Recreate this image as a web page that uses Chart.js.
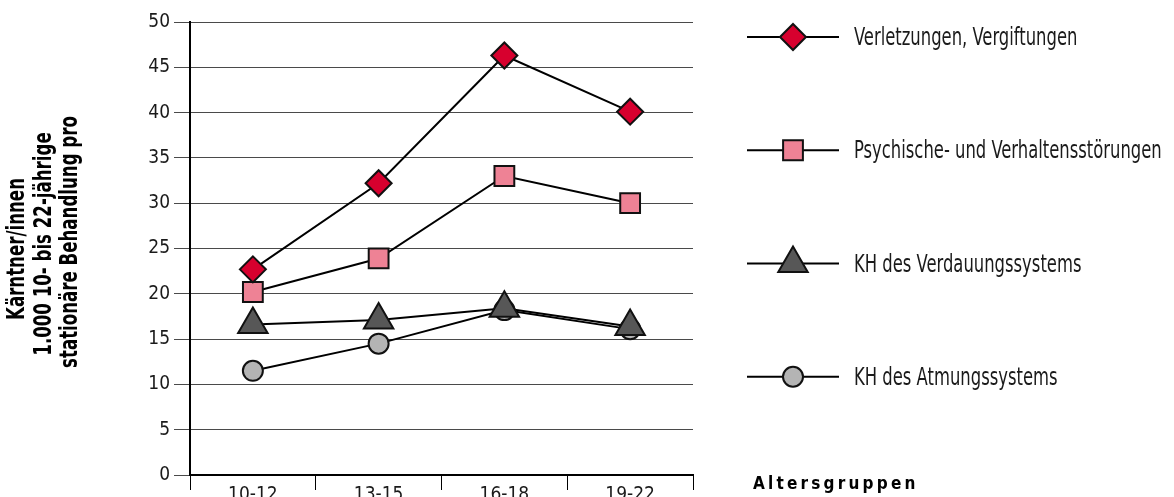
<!DOCTYPE html>
<html>
<head>
<meta charset="utf-8">
<script src="https://cdn.jsdelivr.net/npm/chart.js@4/dist/chart.umd.min.js"></script>
<style>
  html, body { margin: 0; padding: 0; background: #fff; }
  #wrap { width: 1174px; height: 497px; position: relative; }
</style>
</head>
<body>
<div id="wrap"><canvas id="chart"></canvas></div>
<script>
// Altersgruppen
const ageGroups = ["10-12", "13-15", "16-18", "19-22"];

// stationäre Behandlungen pro 1.000 10- bis 22-jährige Kärntner/innen
const injuries = [22.7, 32.2, 46.3, 40.1];
const mental = [20.2, 23.9, 33.0, 30.0];
const digestive = [16.6, 17.1, 18.4, 16.4];
const respiratory = [11.5, 14.5, 18.2, 16.1];

const seriesNames = [
  "Verletzungen, Vergiftungen",
  "Psychische- und Verhaltensstörungen",
  "KH des Verdauungssystems",
  "KH des Atmungssystems"
];

const yTicks = [0, 5, 10, 15, 20, 25, 30, 35, 40, 45, 50];

// the three lines of the rotated y title, left to right
const yTitle = ["Kärntner/innen", "1.000 10- bis 22-jährige", "stationäre Behandlung pro"];

const FONT = "'DejaVu Sans Condensed', 'Liberation Sans Narrow', sans-serif";
const TEXT = "#1a1a1a";

function makeSet(label, data, style, color, radius) {
  return {
    label: label,
    data: data,
    borderColor: "#000",
    borderWidth: 2,
    pointStyle: style,
    pointRadius: radius,
    pointHoverRadius: radius,
    pointBackgroundColor: color,
    pointBorderColor: "#111",
    pointBorderWidth: 2,
    tension: 0,
    fill: false
  };
}

// text squeezed sideways, the original uses a tall condensed face
function narrowText(ctx, str, x, y, sx) {
  ctx.save();
  ctx.translate(x, y);
  ctx.scale(sx, 1);
  ctx.fillText(str, 0, 0);
  ctx.restore();
}

// legend on the right, y title and "Altersgruppen" caption
const sideText = {
  id: "sideText",
  afterDraw(chart) {
    const ctx = chart.ctx;
    const area = chart.chartArea;
    const step = (area.bottom - area.top) / 4;
    ctx.save();
    chart.data.datasets.forEach((ds, i) => {
      const y = area.top + 15 + i * step;
      const x0 = area.right + 54;
      ctx.strokeStyle = "#000";
      ctx.lineWidth = 2;
      ctx.beginPath();
      ctx.moveTo(x0, y);
      ctx.lineTo(x0 + 92, y);
      ctx.stroke();
      ctx.fillStyle = ds.pointBackgroundColor;
      ctx.strokeStyle = ds.pointBorderColor;
      ctx.lineWidth = ds.pointBorderWidth;
      Chart.helpers.drawPoint(ctx, {
        pointStyle: ds.pointStyle,
        radius: ds.pointRadius,
        rotation: 0,
        borderWidth: ds.pointBorderWidth
      }, x0 + 46, y);
      ctx.fillStyle = TEXT;
      ctx.font = "24px " + FONT;
      ctx.textAlign = "left";
      ctx.textBaseline = "alphabetic";
      narrowText(ctx, ds.label, x0 + 107, y + 8, 0.76);
    });

    // rotated y axis title
    const centres = [[18, 249], [44.5, 244], [71, 242]];
    ctx.fillStyle = "#000";
    ctx.font = "bold 24px " + FONT;
    ctx.textAlign = "center";
    ctx.textBaseline = "middle";
    yTitle.forEach((line, i) => {
      ctx.save();
      ctx.translate(centres[i][0], centres[i][1]);
      ctx.rotate(-Math.PI / 2);
      ctx.scale(0.77, 1);
      ctx.fillText(line, 0, 0);
      ctx.restore();
    });

    ctx.font = "bold 17px " + FONT;
    ctx.letterSpacing = "3.2px";
    ctx.textAlign = "left";
    ctx.textBaseline = "alphabetic";
    ctx.fillText("Altersgruppen", area.right + 60, 489);
    ctx.restore();
  }
};

new Chart(document.getElementById("chart"), {
  type: "line",
  data: {
    labels: ageGroups,
    datasets: [
      makeSet(seriesNames[0], injuries, "rectRot", "#D7002E", 13),
      makeSet(seriesNames[1], mental, "rect", "#EE8295", 14),
      makeSet(seriesNames[2], digestive, "triangle", "#575757", 17),
      makeSet(seriesNames[3], respiratory, "circle", "#B4B4B4", 10)
    ]
  },
  options: {
    responsive: true,
    maintainAspectRatio: false,
    animation: false,
    layout: { padding: { left: 0, right: 481, top: 22, bottom: 0 } },
    plugins: {
      legend: { display: false },
      tooltip: { enabled: false }
    },
    scales: {
      x: {
        offset: true,
        border: { display: true, color: "#000", width: 2 },
        grid: {
          offset: true,
          drawOnChartArea: false,
          drawTicks: true,
          tickLength: 15,
          color: "#000",
          lineWidth: 1
        },
        ticks: {
          color: TEXT,
          font: { family: FONT, size: 19 },
          padding: -6,
          maxRotation: 0
        },
        afterFit(scale) { scale.height = 22; }
      },
      y: {
        min: 0,
        max: 50,
        afterBuildTicks(scale) { scale.ticks = yTicks.map(v => ({ value: v })); },
        border: { display: true, color: "#000", width: 2 },
        grid: {
          color: "#4a4a4a",
          lineWidth: 1,
          tickLength: 16
        },
        ticks: {
          color: TEXT,
          font: { family: FONT, size: 19 },
          padding: 4
        },
        afterFit(scale) { scale.width = 190; }
      }
    }
  },
  plugins: [sideText]
});
</script>
</body>
</html>
